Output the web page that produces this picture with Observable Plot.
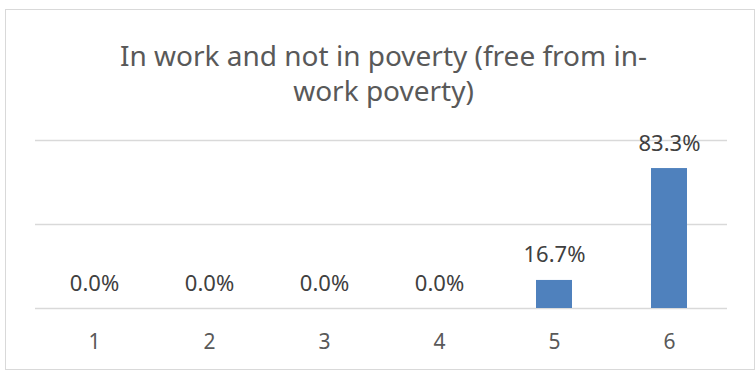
<!DOCTYPE html>
<html>
<head>
<meta charset="utf-8">
<script src="https://cdn.jsdelivr.net/npm/d3@7"></script>
<script src="https://cdn.jsdelivr.net/npm/@observablehq/plot@0.6"></script>
<style>
  html, body { margin: 0; padding: 0; background: #fff; }
  #wrap { position: relative; width: 756px; height: 372px; overflow: hidden; }
  #border { position: absolute; left: 5px; top: 9px; width: 750px; height: 361px; box-sizing: border-box; border: 1px solid #d9d9d9; }
  #chart { position: absolute; left: 0; top: 0; }
</style>
</head>
<body>
<div id="wrap"><div id="border"></div><div id="chart"></div></div>
<script>
const titleText = "In work and not in poverty (free from in-\nwork poverty)";
const categories = ["1", "2", "3", "4", "5", "6"];
const values = [0.0, 0.0, 0.0, 0.0, 0.167, 0.833];
const labels = ["0.0%", "0.0%", "0.0%", "0.0%", "16.7%", "83.3%"];
const gridTicks = [0, 0.5, 1];

const data = categories.map((c, i) => ({cat: c, value: values[i], label: labels[i]}));

const font = "'Noto Sans', 'Open Sans', sans-serif";

const chart = Plot.plot({
  width: 756,
  height: 372,
  marginLeft: 35,
  marginRight: 29,
  marginTop: 140,
  marginBottom: 64,
  style: {fontFamily: font, background: "transparent", overflow: "visible"},
  x: {domain: categories, paddingInner: 0.69, paddingOuter: 0.345, align: 0.5, label: null},
  y: {domain: [0, 1], axis: null},
  marks: [
    Plot.ruleY(gridTicks, {stroke: "#d9d9d9", strokeWidth: 1.3}),
    Plot.barY(data, {x: "cat", y: "value", fill: "#4f81bd"}),
    Plot.text(data, {x: "cat", y: "value", text: "label", dy: -25, fontSize: 22, fill: "#404040"}),
    Plot.axisX({tickSize: 0, tickPadding: 26, fontSize: 21, color: "#595959", label: null}),
    Plot.text([titleText], {frameAnchor: "top", dx: 2, dy: -100, lineAnchor: "top", lineHeight: 1.27, fontSize: 28, fill: "#595959"})
  ]
});
document.getElementById("chart").appendChild(chart);
</script>
</body>
</html>
